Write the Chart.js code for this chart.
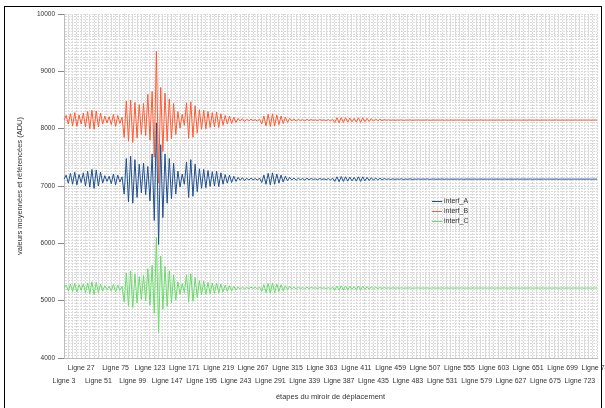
<!DOCTYPE html>
<html>
<head>
<meta charset="utf-8">
<script src="https://cdn.jsdelivr.net/npm/chart.js@4/dist/chart.umd.min.js"></script>
<style>
  html, body { margin: 0; padding: 0; background: #fff; }
  #wrap { position: relative; width: 605px; height: 408px; overflow: hidden; }
  #frame { position: absolute; left: 4px; top: 6px; width: 596px; height: 430px; border: 1px solid #000; pointer-events: none; }
  #legende { position: absolute; left: 432px; top: 196px; font: 7px "Liberation Sans", Arial, sans-serif; color: #333; }
  #legende div { height: 10px; line-height: 10px; white-space: nowrap; }
  #legende span { display: inline-block; width: 10px; height: 1px; vertical-align: middle; margin-right: 2px; }
</style>
</head>
<body>
<div id="wrap">
  <canvas id="interfChart"></canvas>
  <div id="legende"></div>
  <div id="frame"></div>
</div>
<script>
// une categorie toutes les 3 lignes, de Ligne 3 a Ligne 747
const categories = [];
for (let n = 3; n <= 747; n += 3) categories.push('Ligne ' + n);

const tickLabels = ['Ligne 3', 'Ligne 27', 'Ligne 51', 'Ligne 75', 'Ligne 99', 'Ligne 123', 'Ligne 147', 'Ligne 171',
  'Ligne 195', 'Ligne 219', 'Ligne 243', 'Ligne 267', 'Ligne 291', 'Ligne 315', 'Ligne 339', 'Ligne 363',
  'Ligne 387', 'Ligne 411', 'Ligne 435', 'Ligne 459', 'Ligne 483', 'Ligne 507', 'Ligne 531', 'Ligne 555',
  'Ligne 579', 'Ligne 603', 'Ligne 627', 'Ligne 651', 'Ligne 675', 'Ligne 699', 'Ligne 723', 'Ligne 747'];

const seriesNames = ['interf_A', 'interf_B', 'interf_C'];

const interfA = [
  7120, 7190, 7050, 7220, 7030, 7240, 7020, 7200, 7060, 7230,
  7000, 7260, 6980, 7290, 6960, 7280, 7000, 7240, 7050, 7180,
  7080, 7170, 7040, 7210, 7020, 7190, 7070, 7160,
  6860, 7480, 6720, 7520, 6700, 7460, 6800,
  7380, 6880, 7400, 6850, 7340,
  6740, 7560, 6400, 8100, 5980, 7720, 6450,
  7560, 6700, 7480, 6780, 7400, 6860,
  7260, 6980, 7210, 7030,
  7420, 6800, 7460, 6820, 7380, 6900,
  7300, 6960, 7290, 6970, 7270, 6990, 7250, 7000, 7260, 6990, 7230, 7030, 7200, 7050, 7190, 7060, 7170, 7080, 7150, 7100, 7145, 7095, 7135,
  7105, 7135, 7110, 7130, 7100, 7140,
  7060, 7190, 7030, 7220, 7020, 7230, 7030, 7210, 7050, 7190, 7070, 7170, 7090, 7150,
  7105, 7140, 7100, 7135, 7110, 7130, 7105, 7135, 7110, 7130, 7115, 7125, 7110, 7130, 7115, 7125, 7110, 7130, 7105, 7135,
  7080, 7160, 7075, 7165, 7080, 7160, 7085, 7155, 7090, 7150, 7085, 7160, 7080, 7160, 7090, 7150, 7095, 7145, 7100, 7140, 7105, 7135, 7110, 7130, 7115,
  7125, 7115, 7124, 7116, 7123, 7117, 7125, 7114, 7122, 7118,
  7124, 7116, 7121, 7119, 7123, 7117, 7122, 7118, 7124, 7116,
  7120, 7122, 7118, 7121, 7119, 7123, 7117, 7122, 7118, 7121,
  7119, 7120, 7121, 7119, 7122, 7118, 7120, 7121, 7119, 7120,
  7121, 7119, 7120, 7122, 7118, 7121, 7119, 7120, 7121, 7119,
  7120, 7121, 7119, 7120, 7122, 7118, 7120, 7121, 7119, 7120,
  7121, 7119, 7120, 7121, 7119, 7120, 7122, 7118, 7120, 7121,
  7119, 7120, 7121, 7119, 7120, 7121, 7119, 7120, 7122, 7118,
  7120, 7121, 7119, 7120, 7121, 7119, 7120, 7121, 7119, 7120,
  7121, 7119, 7120, 7121, 7119, 7120, 7121, 7120
];

const interfB = [
  8150, 8230, 8080, 8260, 8050, 8280, 8040, 8240, 8080, 8270,
  8030, 8300, 8000, 8320, 7990, 8310, 8030, 8270, 8080, 8220,
  8100, 8210, 8070, 8250, 8040, 8230, 8090, 8200,
  7850, 8480, 7780, 8500, 7760, 8460, 7840,
  8420, 7900, 8440, 7880, 8600,
  7800, 8650, 7500, 9350, 7050, 8720, 7600,
  8620, 7780, 8520, 7820, 8440, 7900,
  8300, 8010, 8250, 8060,
  8450, 7830, 8470, 7850, 8400, 7920,
  8330, 7990, 8320, 8000, 8300, 8020, 8280, 8030, 8290, 8020, 8260, 8060, 8230, 8080, 8220, 8090, 8200, 8110, 8180, 8130, 8175, 8125, 8165,
  8135, 8165, 8140, 8160, 8130, 8170,
  8080, 8220, 8050, 8250, 8040, 8260, 8050, 8240, 8070, 8220, 8090, 8200, 8110, 8180,
  8135, 8170, 8130, 8165, 8140, 8160, 8135, 8165, 8140, 8160, 8145, 8155, 8140, 8160, 8145, 8155, 8140, 8160, 8135, 8165,
  8110, 8190, 8105, 8195, 8110, 8190, 8115, 8185, 8120, 8180, 8115, 8190, 8110, 8190, 8120, 8180, 8125, 8175, 8130, 8170, 8135, 8165, 8140, 8160, 8145,
  8155, 8145, 8154, 8146, 8153, 8147, 8155, 8144, 8152, 8148,
  8154, 8146, 8151, 8149, 8153, 8147, 8152, 8148, 8154, 8146,
  8150, 8152, 8148, 8151, 8149, 8153, 8147, 8152, 8148, 8151,
  8149, 8150, 8151, 8149, 8152, 8148, 8150, 8151, 8149, 8150,
  8151, 8149, 8150, 8152, 8148, 8151, 8149, 8150, 8151, 8149,
  8150, 8151, 8149, 8150, 8152, 8148, 8150, 8151, 8149, 8150,
  8151, 8149, 8150, 8151, 8149, 8150, 8152, 8148, 8150, 8151,
  8149, 8150, 8151, 8149, 8150, 8151, 8149, 8150, 8152, 8148,
  8150, 8151, 8149, 8150, 8151, 8149, 8150, 8151, 8149, 8150,
  8151, 8149, 8150, 8151, 8149, 8150, 8151, 8150
];

const interfC = [
  5220, 5270, 5170, 5290, 5160, 5300, 5150, 5280, 5180, 5290,
  5140, 5310, 5120, 5330, 5110, 5320, 5140, 5290, 5170, 5260,
  5190, 5250, 5170, 5280, 5150, 5270, 5180, 5250,
  4980, 5480, 4900, 5520, 4880, 5470, 4960,
  5420, 5020, 5440, 5000, 5560,
  4920, 5620, 4780, 6100, 4450, 5780, 4850,
  5600, 4900, 5520, 4960, 5450, 5010,
  5330, 5110, 5300, 5140,
  5450, 4980, 5470, 4990, 5400, 5050,
  5350, 5100, 5340, 5110, 5320, 5120, 5310, 5130, 5310, 5130, 5290, 5150, 5270, 5160, 5260, 5170, 5250, 5185, 5240, 5200, 5235, 5205, 5230,
  5210, 5235, 5212, 5232, 5205, 5238,
  5160, 5280, 5140, 5300, 5130, 5310, 5140, 5290, 5160, 5280, 5170, 5260, 5190, 5250,
  5205, 5235, 5200, 5235, 5210, 5230, 5205, 5235, 5210, 5230, 5215, 5225, 5210, 5230, 5215, 5225, 5210, 5230, 5205, 5235,
  5185, 5255, 5180, 5260, 5185, 5255, 5190, 5250, 5195, 5245, 5190, 5255, 5185, 5255, 5195, 5245, 5200, 5240, 5205, 5235, 5210, 5230, 5212, 5228, 5215,
  5225, 5215, 5224, 5216, 5223, 5217, 5225, 5214, 5222, 5218,
  5224, 5216, 5221, 5219, 5223, 5217, 5222, 5218, 5224, 5216,
  5220, 5222, 5218, 5221, 5219, 5223, 5217, 5222, 5218, 5221,
  5219, 5220, 5221, 5219, 5222, 5218, 5220, 5221, 5219, 5220,
  5221, 5219, 5220, 5222, 5218, 5221, 5219, 5220, 5221, 5219,
  5220, 5221, 5219, 5220, 5222, 5218, 5220, 5221, 5219, 5220,
  5221, 5219, 5220, 5221, 5219, 5220, 5222, 5218, 5220, 5221,
  5219, 5220, 5221, 5219, 5220, 5221, 5219, 5220, 5222, 5218,
  5220, 5221, 5219, 5220, 5221, 5219, 5220, 5221, 5219, 5220,
  5221, 5219, 5220, 5221, 5219, 5220, 5221, 5220
];

const couleurs = ['#1f4f8f', '#ff5a30', '#66dd66'];
const police = '"Liberation Sans", Arial, sans-serif';

const ctx = document.getElementById('interfChart').getContext('2d');

new Chart(ctx, {
  type: 'line',
  data: {
    labels: categories,
    datasets: [interfA, interfB, interfC].map((serie, i) => ({
      label: seriesNames[i],
      data: serie,
      borderColor: couleurs[i],
      borderWidth: 1,
      pointRadius: 0,
      tension: 0,
      fill: false
    }))
  },
  options: {
    responsive: true,
    maintainAspectRatio: false,
    animation: false,
    layout: { padding: { left: 0, right: 8, top: 14, bottom: 0 } },
    plugins: { legend: { display: false }, tooltip: { enabled: false } },
    scales: {
      x: {
        offset: false,
        grid: {
          color: c => (c.index % 2 === 0 ? '#dadada' : 'transparent'),
          lineWidth: 1,
          drawTicks: false
        },
        border: { color: '#bbbbbb', dash: [2, 1] },
        ticks: {
          autoSkip: false,
          maxRotation: 0,
          minRotation: 0,
          padding: 4,
          color: '#333',
          font: { family: police, size: 7, lineHeight: 1.8 },
          callback: function (val) {
            const lab = this.getLabelForValue(val);
            const k = tickLabels.indexOf(lab);
            if (k < 0) return '';
            return k % 2 === 0 ? ['', lab] : [lab, ''];
          }
        },
        title: {
          display: true,
          text: 'étapes du miroir de déplacement',
          color: '#333',
          font: { family: police, size: 7.5 },
          padding: { top: 0, bottom: 6.5 }
        },
        afterFit: s => { s.height = 50; s.paddingLeft = 0; s.paddingRight = 0; }
      },
      y: {
        min: 4000,
        max: 10000,
        grid: {
          color: '#dadada',
          lineWidth: 1,
          tickLength: 6,
          tickColor: c => (c.tick && Math.round(c.tick.value) % 1000 === 0 ? '#888' : 'transparent')
        },
        border: { color: '#bbbbbb', dash: [2, 1] },
        ticks: {
          stepSize: 50,
          autoSkip: false,
          maxTicksLimit: 200,
          padding: 3,
          color: '#333',
          font: { family: police, size: 6.5 },
          callback: v => (Math.round(v) % 1000 === 0 ? String(Math.round(v)) : '')
        },
        title: {
          display: true,
          text: 'valeurs moyennées et référencées (ADU)',
          color: '#333',
          font: { family: police, size: 7.5 },
          padding: { top: 15.5, bottom: 0 }
        },
        afterFit: s => { s.width = 64; s.paddingTop = 0; s.paddingBottom = 0; }
      }
    }
  }
});

// legende placee dans la zone du graphique
const legende = document.getElementById('legende');
seriesNames.forEach((nom, i) => {
  const ligne = document.createElement('div');
  ligne.innerHTML = '<span style="background:' + couleurs[i] + '"></span>' + nom;
  legende.appendChild(ligne);
});
</script>
</body>
</html>
